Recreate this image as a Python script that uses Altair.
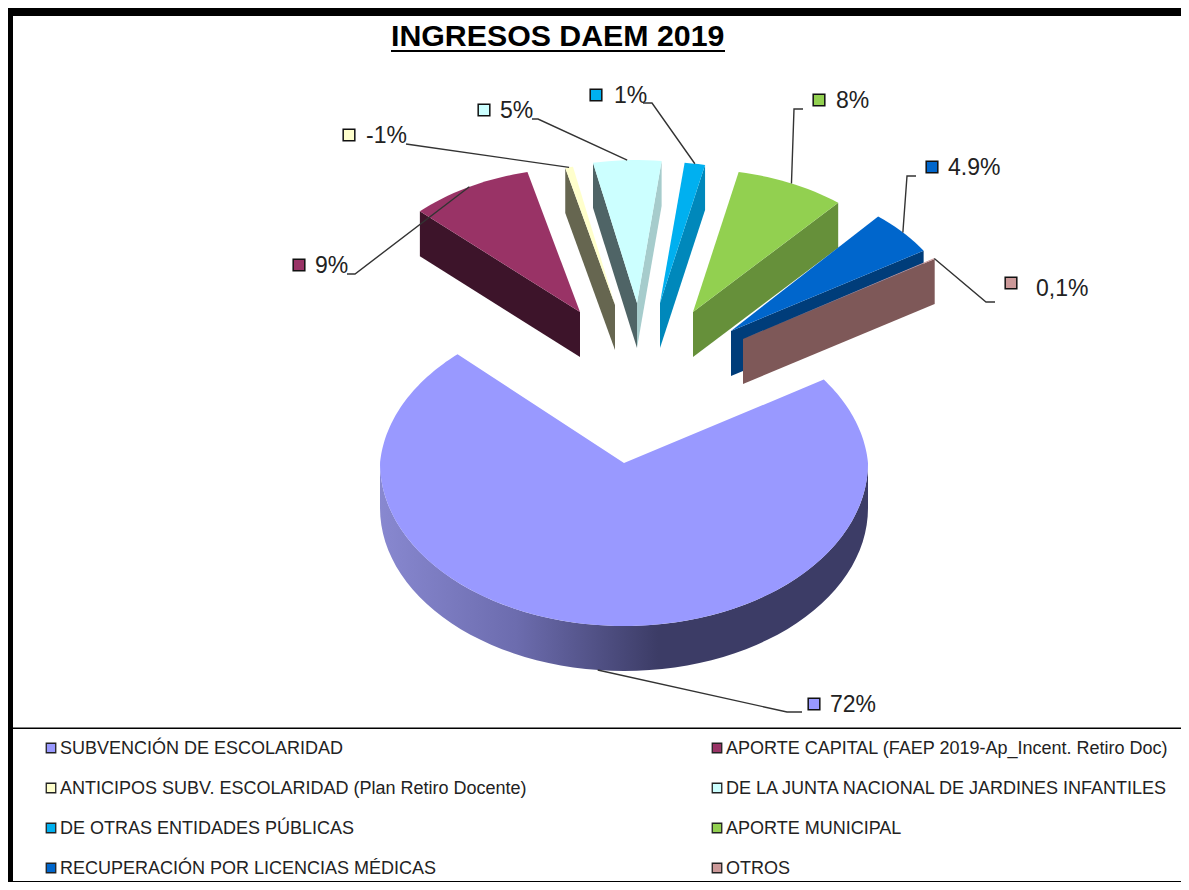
import math
import altair as alt
import pandas as pd

# ---- chart values ----
categories = ["SUBVENCIÓN DE ESCOLARIDAD", "APORTE CAPITAL (FAEP 2019-Ap_Incent. Retiro Doc)",
              "ANTICIPOS SUBV. ESCOLARIDAD (Plan Retiro Docente)", "DE LA JUNTA NACIONAL DE JARDINES INFANTILES",
              "DE OTRAS ENTIDADES PÚBLICAS", "APORTE MUNICIPAL",
              "RECUPERACIÓN POR LICENCIAS MÉDICAS", "OTROS"]
values = [72, 9, -0.6, 5, 1.5, 8, 4.9, 0.1]
labels = ["72%", "9%", "-1%", "5%", "1%", "8%", "4.9%", "0,1%"]
colors = ["#9999FF", "#993366", "#FFFFCC", "#CCFFFF", "#00B0F0", "#92D050", "#0066CC", "#CC9999"]
left_wall = [None, "#3D142A", "#666650", "#4F6466", None, None, None, None]
right_wall = [None, None, None, "#A6CCCC", "#0088BB", "#66903A", "#003D7A", "#7E5858"]

# ---- layout (page pixels) ----
W, H, M = 1173, 874, 8
START = 58
DEPTH = 45
apex = [(624, 463), (580, 312), (615, 305), (637, 303), (660, 303), (693, 312), (731, 331), (743, 339)]
radii = [(244, 163), (224, 144), (212, 141), (222, 143), (222, 141), (225, 143), (228, 150), (226, 151)]
marker = [(814, 704), (299, 265), (349, 135), (484, 110), (596, 95), (819, 100), (932, 167), (1011, 283)]
text_x = [830, 315, 366, 500, 614, 836, 948, 1036]
text_y = [705, 266, 136, 111, 96, 101, 168, 289]
leader_start = [(802, 712), (347, 274), (406, 144), (532, 119), (643, 103), (803, 109), (916, 176), (995, 302)]
leader_elbow = [(787, 712), (355, 274), (406, 144), (538, 119), (652, 103), (794, 109), (907, 176), (986, 302)]

sx = alt.Scale(domain=[M, M + W], range=[0, W], nice=False, zero=False)
sy = alt.Scale(domain=[M, M + H], range=[0, H], nice=False, zero=False)
X = alt.X("x:Q", scale=sx, axis=None)
Y = alt.Y("y:Q", scale=sy, axis=None)


def pt(i, deg, drop=0):
    a = math.radians(deg)
    dx, dy = radii[i][0] * math.sin(a), -radii[i][1] * math.cos(a)
    if i == 0 and dy < 0:  # back of the big slice recedes in perspective
        f = 1 + 0.0004 * dy
        dx, dy = dx * f, dy * f
    return (apex[i][0] + dx, apex[i][1] + dy + drop)


def poly(points, fill):
    df = pd.DataFrame([{"x": p[0], "y": p[1], "i": n} for n, p in enumerate(points)])
    return alt.Chart(df).mark_line(interpolate="linear-closed", fill=fill, stroke="#00000000", strokeWidth=0).encode(
        x=X, y=Y, order="i:Q")


total = sum(abs(v) for v in values)
angles = []
cur = START
for v in values:
    span = abs(v) / total * 360
    angles.append((cur, cur + span))
    cur += span

layers = []
# exploded slices, back to front
for i in range(1, len(values)):
    a0, a1 = angles[i]
    base, base_d = apex[i], (apex[i][0], apex[i][1] + DEPTH)
    if left_wall[i]:
        c = pt(i, a0)
        layers.append(poly([base, c, (c[0], c[1] + DEPTH), base_d], left_wall[i]))
    if right_wall[i]:
        c = pt(i, a1)
        layers.append(poly([base, c, (c[0], c[1] + DEPTH), base_d], right_wall[i]))
    steps = max(2, int((a1 - a0) / 2) + 2)
    arc = [pt(i, a0 + (a1 - a0) * k / (steps - 1)) for k in range(steps)]
    layers.append(poly([base] + arc, colors[i]))

# main slice: rim wall then top
rim_top = [pt(0, d) for d in range(90, 271, 3)]
rim_bottom = [pt(0, d, DEPTH) for d in range(270, 89, -3)]
rim_fill = alt.Gradient(gradient="linear", x1=0, x2=1, y1=0, y2=0, stops=[
    alt.GradientStop(offset=0, color="#8888D0"),
    alt.GradientStop(offset=0.28, color="#6C6CAE"),
    alt.GradientStop(offset=0.57, color="#3C3C66"),
    alt.GradientStop(offset=1, color="#3C3C66"),
])
layers.append(poly(rim_top + rim_bottom, rim_fill))
a0, a1 = angles[0]
steps = int(a1 - a0) + 1
layers.append(poly([apex[0]] + [pt(0, a0 + (a1 - a0) * k / (steps - 1)) for k in range(steps)], colors[0]))

# leader lines
for i in range(len(values)):
    mid = sum(angles[i]) / 2
    tip = pt(i, mid, DEPTH if i == 0 else 0)
    df = pd.DataFrame([{"x": p[0], "y": p[1], "i": n} for n, p in enumerate([leader_start[i], leader_elbow[i], tip])])
    layers.append(alt.Chart(df).mark_line(color="#333333", strokeWidth=1.4).encode(x=X, y=Y, order="i:Q"))

# data label markers and texts
lab = pd.DataFrame({"x": [m[0] for m in marker], "y": [m[1] for m in marker],
                    "tx": text_x, "ty": text_y, "label": labels, "color": colors})
layers.append(alt.Chart(lab).mark_square(size=135, stroke="#111111", strokeWidth=1.5, opacity=1).encode(
    x=X, y=Y, fill=alt.Fill("color:N", scale=None)))
layers.append(alt.Chart(lab).mark_text(align="left", baseline="middle", font="Liberation Sans", fontSize=23,
                                       color="#222222").encode(
    x=alt.X("tx:Q", scale=sx, axis=None), y=alt.Y("ty:Q", scale=sy, axis=None), text="label:N"))

# title
title_df = pd.DataFrame({"x": [391], "y": [36.5], "t": ["INGRESOS DAEM 2019"], "x2": [725], "yu": [51]})
layers.append(alt.Chart(title_df).mark_text(align="left", baseline="middle", font="Liberation Sans", fontSize=30.3,
                                            fontWeight="bold", color="#000000").encode(x=X, y=Y, text="t:N"))
layers.append(alt.Chart(title_df).mark_rule(color="#000000", strokeWidth=2).encode(
    x=X, x2="x2:Q", y=alt.Y("yu:Q", scale=sy, axis=None)))

# legend
leg_x = [51, 717]
leg_y = [748, 788, 828, 868]
leg_rows = []
for n, c in enumerate(categories):
    lx = leg_x[n % 2]
    ly = leg_y[n // 2]
    leg_rows.append({"x": lx, "y": ly, "ty": ly + 1, "tx": lx + 9, "name": c, "color": colors[n]})
leg = pd.DataFrame(leg_rows)
layers.append(alt.Chart(leg).mark_square(size=90, stroke="#222222", strokeWidth=1.3, opacity=1).encode(
    x=X, y=Y, fill=alt.Fill("color:N", scale=None)))
layers.append(alt.Chart(leg).mark_text(align="left", baseline="middle", font="Liberation Sans", fontSize=18,
                                       color="#222222").encode(
    x=alt.X("tx:Q", scale=sx, axis=None), y=alt.Y("ty:Q", scale=sy, axis=None), text="name:N"))

# frame
frame = pd.DataFrame([
    {"x": M, "x2": M + W, "y": 8, "y2": 16},
    {"x": M, "x2": 13, "y": 8, "y2": M + H},
    {"x": 13, "x2": M + W, "y": 727.5, "y2": 729},
    {"x": 13, "x2": M + W, "y": M + H - 1, "y2": M + H},
])
layers.append(alt.Chart(frame).mark_rect(color="#000000").encode(
    x=X, x2="x2:Q", y=Y, y2="y2:Q"))

chart = alt.layer(*layers).properties(width=W, height=H, padding=0, background="white",
                                      autosize=alt.AutoSizeParams(type="none")).configure_view(stroke=None)
chart.save("out.html", embed_options={"renderer": "svg", "actions": False})
